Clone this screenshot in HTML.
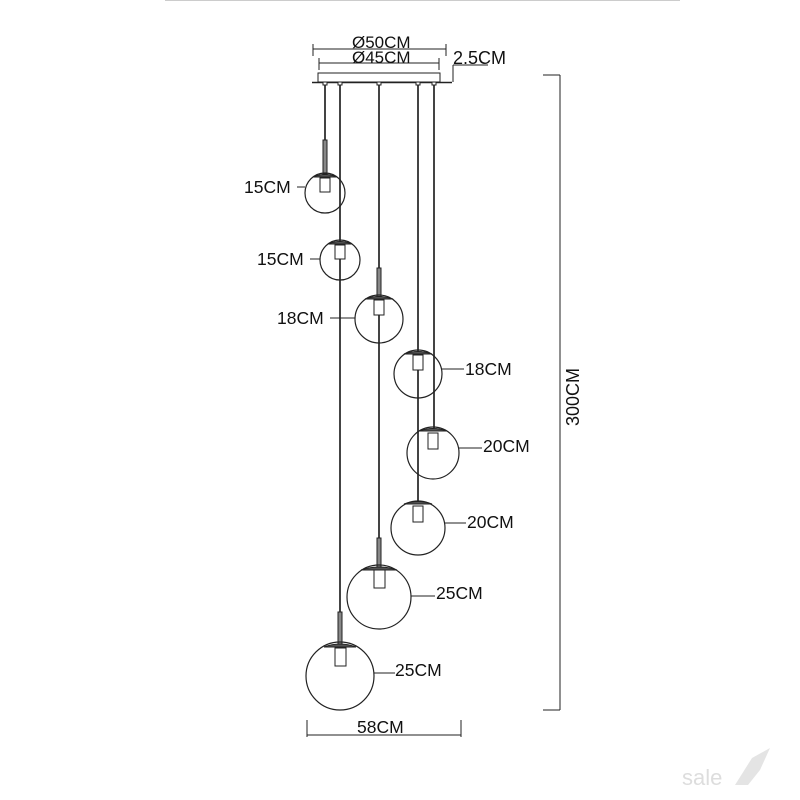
<!DOCTYPE html>
<html><head><meta charset="utf-8"><style>
html,body{margin:0;padding:0;background:#fff;}
svg{display:block;font-family:"Liberation Sans",Arial,sans-serif;}
text{font-size:17.5px;fill:#111;}
</style></head><body>
<svg width="800" height="800" viewBox="0 0 800 800" xmlns="http://www.w3.org/2000/svg">
<line x1="165" y1="0.5" x2="680" y2="0.5" stroke="#ccc" stroke-width="1"/>
<g stroke="#222" stroke-width="1" fill="none">
<line x1="313" y1="49" x2="446" y2="49"/><line x1="313" y1="44" x2="313" y2="56"/><line x1="446" y1="44" x2="446" y2="56"/>
<line x1="319" y1="63" x2="439" y2="63"/><line x1="319" y1="58" x2="319" y2="70"/><line x1="439" y1="58" x2="439" y2="70"/>
<line x1="453" y1="65" x2="453" y2="82"/><line x1="453" y1="65" x2="488" y2="65"/>
<rect x="318" y="73" width="122" height="9"/>
<line x1="312" y1="82.5" x2="452" y2="82.5" stroke-width="1.5"/>
</g>
<text x="352" y="48" style="font-size:17px">Ø50CM</text>
<text x="352" y="63" style="font-size:17px">Ø45CM</text>
<text x="453" y="64" style="font-size:18px">2.5CM</text>
<g stroke="#444" stroke-width="2">
<line x1="325" y1="83" x2="325" y2="175"/>
<line x1="340" y1="83" x2="340" y2="645"/>
<line x1="379" y1="83" x2="379" y2="568"/>
<line x1="418" y1="83" x2="418" y2="502"/>
<line x1="434" y1="83" x2="434" y2="428"/>
</g>
<g stroke="#222" stroke-width="1" fill="#fff">
<rect x="323" y="82" width="4" height="3"/><rect x="338" y="82" width="4" height="3"/><rect x="377" y="82" width="4" height="3"/><rect x="416" y="82" width="4" height="3"/><rect x="432" y="82" width="4" height="3"/>
<rect x="323" y="140" width="4" height="34" fill="#888"/>
<rect x="377" y="268" width="4" height="30" fill="#888"/>
<rect x="377" y="538" width="4" height="30" fill="#888"/>
<rect x="338" y="612" width="4" height="32" fill="#888"/>
</g>
<g stroke="#222" stroke-width="1.2" fill="none">
<circle cx="325" cy="193" r="20"/>
<circle cx="340" cy="260" r="20"/>
<circle cx="379" cy="319" r="24"/>
<circle cx="418" cy="374" r="24"/>
<circle cx="433" cy="453" r="26"/>
<circle cx="418" cy="528" r="27"/>
<circle cx="379" cy="597" r="32"/>
<circle cx="340" cy="676" r="34"/>
</g>
<g stroke="#222" stroke-width="1" fill="#fff">
<path d="M313 177 Q325 172 337 177 Z" fill="#555"/><rect x="320" y="178" width="10" height="14"/>
<path d="M328 244 Q340 239 352 244 Z" fill="#555"/><rect x="335" y="245" width="10" height="14"/>
<path d="M365 299 Q379 294 393 299 Z" fill="#555"/><rect x="374" y="300" width="10" height="15"/>
<path d="M404 354 Q418 349 432 354 Z" fill="#555"/><rect x="413" y="355" width="10" height="15"/>
<path d="M419 431 Q433 426 447 431 Z" fill="#555"/><rect x="428" y="433" width="10" height="16"/>
<path d="M404 504 Q418 499 432 504 Z" fill="#555"/><rect x="413" y="506" width="10" height="16"/>
<path d="M361 570 Q379 564 397 570 Z" fill="#555"/><rect x="374" y="570" width="11" height="18"/>
<path d="M324 647 Q340 641 356 647 Z" fill="#555"/><rect x="335" y="648" width="11" height="18"/>
</g>
<g stroke="#222" stroke-width="1">
<line x1="297" y1="187" x2="305" y2="187"/>
<line x1="310" y1="259" x2="320" y2="259"/>
<line x1="330" y1="318" x2="355" y2="318"/>
<line x1="442" y1="369" x2="464" y2="369"/>
<line x1="459" y1="448" x2="482" y2="448"/>
<line x1="445" y1="523" x2="466" y2="523"/>
<line x1="411" y1="596" x2="435" y2="596"/>
<line x1="374" y1="673" x2="395" y2="673"/>
</g>
<text x="244" y="193">15CM</text>
<text x="257" y="265">15CM</text>
<text x="277" y="324">18CM</text>
<text x="465" y="375">18CM</text>
<text x="483" y="452">20CM</text>
<text x="467" y="528">20CM</text>
<text x="436" y="599">25CM</text>
<text x="395" y="676">25CM</text>
<g stroke="#222" stroke-width="1">
<line x1="560" y1="75" x2="560" y2="710"/>
<line x1="543" y1="75" x2="560" y2="75"/>
<line x1="543" y1="710" x2="560" y2="710"/>
<line x1="307" y1="735" x2="461" y2="735"/>
<line x1="307" y1="720" x2="307" y2="737"/>
<line x1="461" y1="720" x2="461" y2="737"/>
</g>
<text transform="translate(579,426) rotate(-90)" style="font-size:18px">300CM</text>
<text x="357" y="733">58CM</text>
<text x="682" y="785" style="font-size:22px;fill:#ddd">sale</text>
<path d="M735 785 L752 758 L770 748 L760 770 L748 785 Z" fill="#e4e4e4"/>
</svg>
</body></html>
